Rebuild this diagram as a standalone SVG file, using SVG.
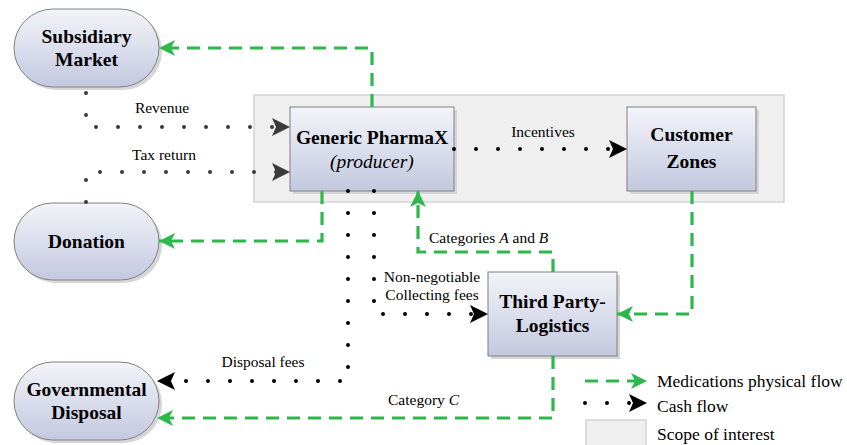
<svg xmlns="http://www.w3.org/2000/svg" width="847" height="445" viewBox="0 0 847 445">
<defs>
<linearGradient id="g" x1="0" y1="0" x2="0" y2="1">
<stop offset="0" stop-color="#f3f4f9"/>
<stop offset="1" stop-color="#c3c8df"/>
</linearGradient>
<marker id="ag" markerUnits="userSpaceOnUse" markerWidth="18" markerHeight="18" refX="16" refY="8" orient="auto">
<path d="M0,0 L16,8 L0,16 L4,8 z" fill="#2eb84b"/>
</marker>
<marker id="ak" markerUnits="userSpaceOnUse" markerWidth="20" markerHeight="20" refX="18" refY="9" orient="auto">
<path d="M0,0 L18,9 L0,18 L4,9 z" fill="#000"/>
</marker>
<marker id="ad" markerUnits="userSpaceOnUse" markerWidth="20" markerHeight="20" refX="18" refY="9" orient="auto">
<path d="M0,0 L18,9 L0,18 L4,9 z" fill="#3a3a3a"/>
</marker>
</defs>
<style>
.node{fill:url(#g);stroke:#808080;stroke-width:1}
.sh{fill:#d6d6d6}
text{font-family:'Liberation Serif','DejaVu Serif',serif}
.t{font-weight:bold;font-size:19.5px;fill:#000;text-anchor:middle}
.l{font-size:15.5px;fill:#000}
.lg{font-size:17.5px;fill:#000}
.gf{fill:none;stroke:#2eb84b;stroke-width:3.2;stroke-dasharray:13 8;marker-end:url(#ag)}
.cf{fill:none;stroke:#000;stroke-width:4;stroke-dasharray:0 22;stroke-linecap:round;marker-end:url(#ak)}
.cd{fill:none;stroke:#3a3a3a;stroke-width:4;stroke-dasharray:0 22;stroke-linecap:round;marker-end:url(#ad)}
.scope{fill:#efefef;stroke:#d4d4d4;stroke-width:1.5}
</style>
<rect class="scope" x="254" y="95" width="530" height="107"/>

<g id="subsidiary">
<rect class="sh" x="17" y="12" width="145" height="78" rx="39"/>
<rect class="node" x="14" y="9" width="145" height="78" rx="39"/>
<text class="t" x="86.5" y="43" font-family="Liberation Serif, serif">Subsidiary</text>
<text class="t" x="86.5" y="66" font-family="Liberation Serif, serif">Market</text>
</g>
<g id="donation">
<rect class="sh" x="17" y="206" width="145" height="77" rx="38.5"/>
<rect class="node" x="14" y="203" width="145" height="77" rx="38.5"/>
<text class="t" x="86.5" y="248" font-family="Liberation Serif, serif">Donation</text>
</g>
<g id="governmental">
<rect class="sh" x="17" y="365" width="145" height="78" rx="39"/>
<rect class="node" x="14" y="362" width="145" height="78" rx="39"/>
<text class="t" x="86.5" y="396" font-family="Liberation Serif, serif">Governmental</text>
<text class="t" x="86.5" y="419" font-family="Liberation Serif, serif">Disposal</text>
</g>
<g id="pharmax">
<rect class="sh" x="293" y="110" width="164" height="84"/>
<rect class="node" x="290" y="107" width="164" height="84"/>
<text class="t" x="372" y="144" font-family="Liberation Serif, serif">Generic PharmaX</text>
<text class="t" x="372" y="168" font-family="Liberation Serif, serif" style="font-weight:normal;font-style:italic">(producer)</text>
</g>
<g id="customer">
<rect class="sh" x="630" y="110" width="129" height="84"/>
<rect class="node" x="627" y="107" width="129" height="84"/>
<text class="t" x="691.5" y="141" font-family="Liberation Serif, serif">Customer</text>
<text class="t" x="691.5" y="168" font-family="Liberation Serif, serif">Zones</text>
</g>
<g id="tpl">
<rect class="sh" x="491" y="275" width="129" height="84"/>
<rect class="node" x="488" y="272" width="129" height="84"/>
<text class="t" x="552.5" y="308" font-family="Liberation Serif, serif">Third Party-</text>
<text class="t" x="552.5" y="332" font-family="Liberation Serif, serif">Logistics</text>
</g>

<g id="connectors">
<path class="gf" d="M372,107 V48 H159"/>
<path class="gf" d="M322,191 V241 H159"/>
<path class="gf" d="M692,191 V314 H617"/>
<path class="gf" d="M553,272 V252 H418 V191"/>
<path class="gf" d="M553,356 V418 H157"/>
<path class="cd" d="M86,93 V127 H290"/>
<path class="cd" d="M86,202 V172 H290"/>
<path class="cf" d="M454,149 H627"/>
<path class="cf" d="M374,191 V314 H488"/>
<path class="cf" d="M348,191 V381 H157"/>
<text class="l" x="162" y="113" text-anchor="middle">Revenue</text>
<text class="l" x="164" y="160" text-anchor="middle">Tax return</text>
<text class="l" x="543" y="137" text-anchor="middle">Incentives</text>
<text class="l" x="429" y="243">Categories <tspan font-style="italic">A</tspan> and <tspan font-style="italic">B</tspan></text>
<text class="l" x="432" y="282" text-anchor="middle">Non-negotiable</text>
<text class="l" x="432" y="300" text-anchor="middle">Collecting fees</text>
<text class="l" x="263" y="367" text-anchor="middle">Disposal fees</text>
<text class="l" x="388" y="405">Category <tspan font-style="italic">C</tspan></text>
</g>

<g id="legend">
<path class="gf" d="M585,381 H647"/>
<text class="lg" x="657" y="387">Medications physical flow</text>
<path class="cf" d="M585,403 H647"/>
<text class="lg" x="657" y="412">Cash flow</text>
<rect class="scope" x="586" y="420" width="60" height="30"/>
<text class="lg" x="657" y="440">Scope of interest</text>
</g>
</svg>
